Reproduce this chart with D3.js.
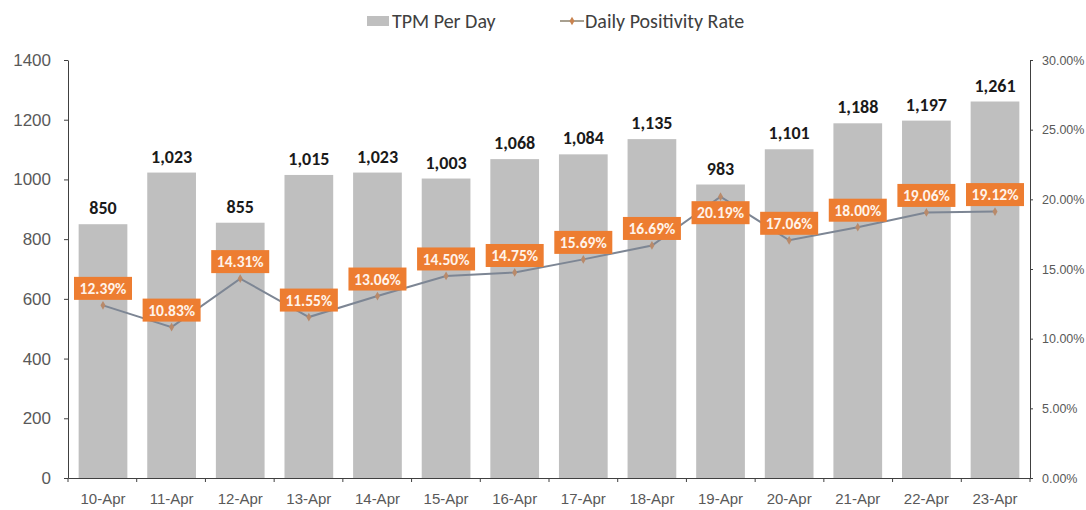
<!DOCTYPE html>
<html>
<head>
<meta charset="utf-8">
<script src="https://cdn.jsdelivr.net/npm/d3@7"></script>
<style>
  body { margin: 0; background: #fff; font-family: Calibri, Carlito, "Liberation Sans", "Open Sans", sans-serif; }
  .axis text { fill: #595959; }
  .axis path, .axis line { stroke: #404040; }
</style>
</head>
<body>
<svg id="chart"></svg>
<script>
var width = 1086;
var height = 510;

var days = ['10-Apr','11-Apr','12-Apr','13-Apr','14-Apr','15-Apr','16-Apr','17-Apr','18-Apr','19-Apr','20-Apr','21-Apr','22-Apr','23-Apr'];
var tpm = [850, 1023, 855, 1015, 1023, 1003, 1068, 1084, 1135, 983, 1101, 1188, 1197, 1261];
var positivity = [12.39, 10.83, 14.31, 11.55, 13.06, 14.50, 14.75, 15.69, 16.69, 20.19, 17.06, 18.00, 19.06, 19.12];
var leftTicks = [0, 200, 400, 600, 800, 1000, 1200, 1400];
var rightTicks = [0, 5, 10, 15, 20, 25, 30];

var plotLeft = 68, plotRight = 1030, plotTop = 60, plotBottom = 478;

var svg = d3.select('#chart')
    .attr('width', width)
    .attr('height', height);

// Scales
var xScale = d3.scaleBand()
    .domain(days)
    .range([plotLeft, plotRight])
    .paddingInner(0.29)
    .paddingOuter(0.155);

var yScale = d3.scaleLinear()
    .domain([0, 1400])
    .range([plotBottom, plotTop]);

var y2Scale = d3.scaleLinear()
    .domain([0, 30])
    .range([plotBottom, plotTop]);

// Bars
svg.selectAll('rect.bar')
    .data(tpm)
    .enter()
    .append('rect')
    .attr('class', 'bar')
    .attr('x', (d, i) => xScale(days[i]))
    .attr('y', d => yScale(d))
    .attr('width', xScale.bandwidth())
    .attr('height', d => plotBottom - yScale(d))
    .attr('fill', '#bfbfbf');

// Bar labels
svg.selectAll('text.barlabel')
    .data(tpm)
    .enter()
    .append('text')
    .attr('class', 'barlabel')
    .attr('x', (d, i) => xScale(days[i]) + xScale.bandwidth() / 2)
    .attr('y', d => yScale(d) - 10)
    .attr('text-anchor', 'middle')
    .style('font-size', '18px')
    .style('font-weight', 'bold')
    .style('fill', '#1a1a1a')
    .text(d => d3.format(',')(d));

// Axes
var yAxis = d3.axisLeft(yScale)
    .tickValues(leftTicks)
    .tickFormat(d3.format('d'))
    .tickSize(4)
    .tickSizeOuter(0);

svg.append('g')
    .attr('class', 'axis')
    .attr('transform', 'translate(' + plotLeft + ',0)')
    .call(yAxis)
    .call(g => g.selectAll('text').style('font-size', '17px').attr('x', -17));

var y2Axis = d3.axisRight(y2Scale)
    .tickValues(rightTicks)
    .tickFormat(d => d.toFixed(2) + '%')
    .tickSize(3)
    .tickSizeOuter(0);

svg.append('g')
    .attr('class', 'axis')
    .attr('transform', 'translate(' + plotRight + ',0)')
    .call(y2Axis)
    .call(g => g.selectAll('text').style('font-size', '12.5px').attr('x', 12));

var xAxis = d3.axisBottom(xScale)
    .tickSize(0)
    .tickSizeOuter(0);

var xg = svg.append('g')
    .attr('class', 'axis')
    .attr('transform', 'translate(0,' + plotBottom + ')')
    .call(xAxis);
xg.selectAll('text').style('font-size', '15px').attr('y', 0).attr('dy', '1.75em');

// category separator ticks
svg.append('g')
    .selectAll('line')
    .data(d3.range(days.length + 1))
    .enter()
    .append('line')
    .attr('x1', i => plotLeft + i * (plotRight - plotLeft) / days.length)
    .attr('x2', i => plotLeft + i * (plotRight - plotLeft) / days.length)
    .attr('y1', plotBottom)
    .attr('y2', plotBottom + 4)
    .attr('stroke', '#404040');

// Line
var cx = i => xScale(days[i]) + xScale.bandwidth() / 2;

var line = d3.line()
    .x((d, i) => cx(i))
    .y(d => y2Scale(d));

svg.append('path')
    .datum(positivity)
    .attr('d', line)
    .attr('fill', 'none')
    .attr('stroke', '#7d8694')
    .attr('stroke-width', 2);

svg.selectAll('path.marker')
    .data(positivity)
    .enter()
    .append('path')
    .attr('class', 'marker')
    .attr('d', d3.symbol().type(d3.symbolDiamond).size(22))
    .attr('transform', (d, i) => 'translate(' + cx(i) + ',' + y2Scale(d) + ')')
    .attr('fill', '#b98a6a');

// Line labels (19-Apr label sits below its point, as in the original)
var labels = svg.selectAll('g.plabel')
    .data(positivity)
    .enter()
    .append('g')
    .attr('class', 'plabel')
    .attr('transform', (d, i) => 'translate(' + cx(i) + ',' + (y2Scale(d) + (days[i] === '19-Apr' ? 16 : -17)) + ')');

labels.append('rect')
    .attr('x', -29)
    .attr('y', -11.5)
    .attr('width', 58)
    .attr('height', 23)
    .attr('fill', '#ed7d31');

labels.append('text')
    .attr('text-anchor', 'middle')
    .attr('dy', '0.36em')
    .style('font-size', '15.5px')
    .style('font-weight', 'bold')
    .style('fill', '#fff3ea')
    .text(d => d.toFixed(2) + '%');

// Legend
var legend = svg.append('g').attr('transform', 'translate(0,21)');

legend.append('rect')
    .attr('x', 367)
    .attr('y', -5)
    .attr('width', 22)
    .attr('height', 10)
    .attr('fill', '#bfbfbf');

legend.append('text')
    .attr('x', 392)
    .attr('dy', '0.35em')
    .style('font-size', '20px')
    .style('fill', '#404040')
    .text('TPM Per Day');

legend.append('line')
    .attr('x1', 560)
    .attr('x2', 584)
    .attr('stroke', '#a8a090')
    .attr('stroke-width', 2);

legend.append('path')
    .attr('d', d3.symbol().type(d3.symbolDiamond).size(22))
    .attr('transform', 'translate(572,0)')
    .attr('fill', '#c9834f');

legend.append('text')
    .attr('x', 585)
    .attr('dy', '0.35em')
    .style('font-size', '20px')
    .style('fill', '#404040')
    .text('Daily Positivity Rate');
</script>
</body>
</html>
